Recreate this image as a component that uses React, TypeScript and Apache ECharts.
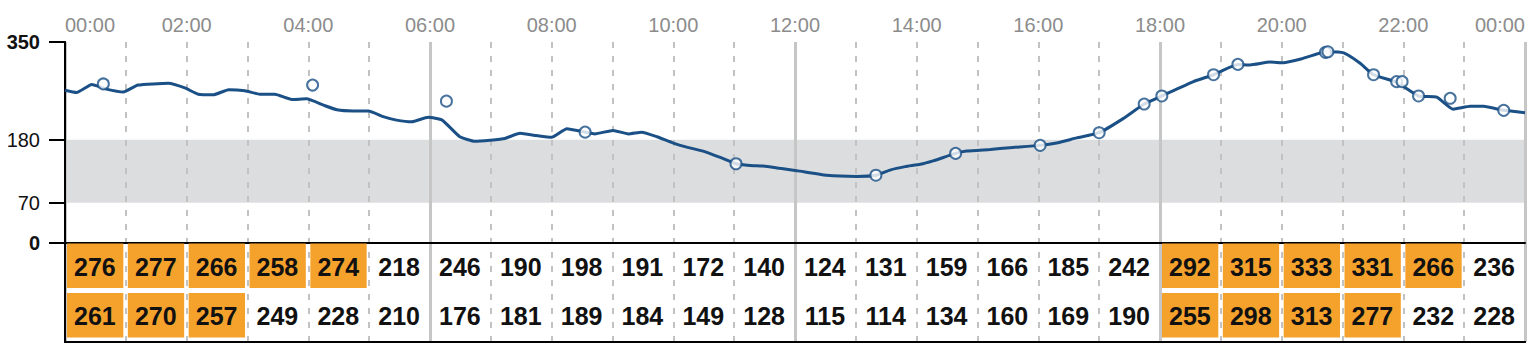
import React, { useEffect, useRef } from 'react';
import * as echarts from 'echarts';

// Continuous glucose trace (hours since midnight, mg/dL)
const cgmTimes = [0, 0.19, 0.44, 0.68, 0.96, 1.2, 1.7, 1.97, 2.19, 2.44, 2.69, 2.96, 3.2, 3.45, 3.73, 3.97, 4.25, 4.47, 4.74, 4.99, 5.23, 5.45, 5.7, 5.97, 6.2, 6.49, 6.74, 6.99, 7.23, 7.48, 7.75, 8.0, 8.25, 8.55, 8.71, 9.01, 9.26, 9.48, 9.73, 10.0, 10.22, 10.49, 10.77, 11.03, 11.26, 11.48, 11.75, 12.03, 12.52, 13.01, 13.33, 13.56, 13.81, 14.06, 14.27, 14.64, 14.82, 15.21, 15.53, 16.03, 16.3, 16.63, 17.0, 17.4, 17.74, 18.03, 18.55, 18.88, 19.28, 19.48, 19.81, 20.03, 20.3, 20.74, 21.02, 21.29, 21.51, 21.89, 22.25, 22.55, 22.82, 23.1, 23.32, 23.65, 24.0];
const cgmValues = [266, 262, 276, 268, 263, 275, 278, 270, 259, 258, 267, 265, 259, 259, 250, 251, 240, 232, 230, 230, 220, 214, 211, 219, 214, 185, 177, 179, 182, 191, 187, 184, 199, 193, 190, 196, 190, 193, 185, 174, 167, 160, 149, 138, 135, 134, 130, 126, 118, 116, 118, 127, 133, 137, 143, 156, 160, 163, 166, 170, 174, 183, 192, 217, 242, 256, 281, 293, 311, 310, 315, 314, 320, 333, 331, 313, 293, 280, 256, 254, 233, 238, 238, 231, 227];

// Meter readings
const meterTimes = [0.63, 4.07, 6.27, 8.55, 11.03, 13.33, 14.64, 16.03, 17.0, 17.74, 18.03, 18.88, 19.28, 20.72, 20.76, 21.51, 21.89, 21.98, 22.25, 22.77, 23.65];
const meterValues = [277, 275, 247, 193, 138, 118, 156, 170, 192, 242, 256, 293, 311, 332, 333, 293, 281, 281, 256, 252, 231];

// Hourly table rows
const hourlyRowA = [276, 277, 266, 258, 274, 218, 246, 190, 198, 191, 172, 140, 124, 131, 159, 166, 185, 242, 292, 315, 333, 331, 266, 236];
const hourlyRowB = [261, 270, 257, 249, 228, 210, 176, 181, 189, 184, 149, 128, 115, 114, 134, 160, 169, 190, 255, 298, 313, 277, 232, 228];

const yTickValues = [0, 70, 180, 350];
const boldYTicks = [0, 350];
const targetRange = [70, 180];
const highThreshold = 250;

const FONT = "'Liberation Sans', Arial, Helvetica, sans-serif";
const BLUE = '#1a5086';
const ORANGE = '#f5a22d';

export default function App() {
  const ref = useRef<HTMLDivElement>(null);

  useEffect(() => {
    const chart = echarts.init(ref.current!, null, { renderer: 'svg' });

    const lineData = cgmTimes.map((t, i) => [t, cgmValues[i]]);
    const meterData = meterTimes.map((t, i) => [t, meterValues[i]]);
    const tableData: number[][] = [];
    hourlyRowA.forEach((v, h) => tableData.push([h, 0, v]));
    hourlyRowB.forEach((v, h) => tableData.push([h, 1, v]));

    const fmtHour = (v: number) =>
      v % 2 === 0 ? String(v % 24).padStart(2, '0') + ':00' : '';

    const option: any = {
      animation: false,
      textStyle: { fontFamily: FONT },
      grid: [
        { left: 65, top: 42, width: 1460, height: 300 },
        { left: 65, top: 42, width: 1460, height: 201 },
        { left: 65, top: 243, width: 1460, height: 99 },
      ],
      xAxis: [
        {
          gridIndex: 0, type: 'value', min: 0, max: 24, interval: 1, position: 'top', z: 3,
          axisLine: { show: true, lineStyle: { color: '#000', width: 2 } },
          axisTick: { show: false },
          axisLabel: {
            formatter: fmtHour, color: '#8c8c8c', fontSize: 20, fontFamily: FONT, margin: 7,
            alignMinLabel: 'left', alignMaxLabel: 'right',
          },
          splitLine: { show: true, lineStyle: { color: '#c2c2c2', width: 2, type: [6, 8] } },
        },
        {
          gridIndex: 0, type: 'value', min: 0, max: 24, interval: 6, position: 'bottom', z: 3,
          axisLine: { show: true, lineStyle: { color: '#000', width: 2 } },
          axisTick: { show: false },
          axisLabel: { show: false },
          splitLine: { show: true, lineStyle: { color: '#c6c6c6', width: 3, type: 'solid' } },
        },
        {
          gridIndex: 1, type: 'value', min: 0, max: 24, position: 'bottom', z: 3,
          axisLine: { show: true, lineStyle: { color: '#000', width: 2 } },
          axisTick: { show: false }, axisLabel: { show: false }, splitLine: { show: false },
        },
        { gridIndex: 2, type: 'value', min: 0, max: 24, show: false },
      ],
      yAxis: [
        {
          gridIndex: 0, type: 'value', min: 0, max: 1, position: 'left', z: 4,
          axisLine: { show: true, lineStyle: { color: '#000', width: 2 } },
          axisTick: { show: false }, axisLabel: { show: false }, splitLine: { show: false },
        },
        {
          gridIndex: 0, type: 'value', min: 0, max: 1, position: 'right', z: 4,
          axisLine: { show: true, lineStyle: { color: '#000', width: 2 } },
          axisTick: { show: false }, axisLabel: { show: false }, splitLine: { show: false },
        },
        {
          gridIndex: 1, type: 'value', min: 0, max: 350, position: 'left', z: 4,
          axisLine: { show: false },
          axisTick: {
            show: true, customValues: yTickValues, length: 16, inside: false,
            lineStyle: { color: '#000', width: 2 },
          },
          axisLabel: {
            customValues: yTickValues, margin: 25, color: '#111', fontSize: 20, fontFamily: FONT,
            formatter: (v: number) => (boldYTicks.includes(v) ? `{b|${v}}` : `${v}`),
            rich: { b: { fontWeight: 'bold', fontSize: 20, color: '#111', fontFamily: FONT } },
          },
          splitLine: { show: false },
        },
        { gridIndex: 2, type: 'value', min: 0, max: 2, inverse: true, show: false },
      ],
      series: [
        {
          type: 'line', xAxisIndex: 2, yAxisIndex: 2, z: 1, silent: true,
          data: [[0, targetRange[0]], [24, targetRange[1]]],
          showSymbol: false, symbol: 'none', lineStyle: { opacity: 0 },
          markArea: {
            silent: true,
            itemStyle: { color: '#dcdddf' },
            data: [[{ yAxis: targetRange[0] }, { yAxis: targetRange[1] }]],
          },
        },
        {
          type: 'line', xAxisIndex: 2, yAxisIndex: 2, z: 5,
          data: lineData, showSymbol: false, symbol: 'none', smooth: 0.15,
          lineStyle: { color: BLUE, width: 3 },
        },
        {
          type: 'scatter', xAxisIndex: 2, yAxisIndex: 2, z: 6,
          data: meterData, symbol: 'circle', symbolSize: 11,
          itemStyle: { color: '#fff', borderColor: BLUE, borderWidth: 2 },
        },
        {
          type: 'custom', xAxisIndex: 3, yAxisIndex: 3, z: 5,
          encode: { x: 0, y: 1 },
          data: tableData,
          renderItem: (params: any, api: any) => {
            const h = api.value(0);
            const r = api.value(1);
            const v = api.value(2);
            const p0 = api.coord([h, r]);
            const p1 = api.coord([h + 1, r + 1]);
            const x0 = p0[0], y0 = p0[1], x1 = p1[0], y1 = p1[1];
            const children: any[] = [];
            if (v > highThreshold) {
              children.push({
                type: 'rect',
                shape: { x: x0 + 2, y: y0 + 0.5, width: x1 - x0 - 4.5, height: y1 - y0 - 5 },
                style: { fill: ORANGE },
              });
            }
            children.push({
              type: 'text',
              x: (x0 + x1) / 2 - 0.5,
              y: (y0 + y1) / 2 - 1,
              style: {
                text: String(v), align: 'center', verticalAlign: 'middle',
                font: `bold 25px ${FONT}`, fill: '#111',
              },
            });
            return { type: 'group', children };
          },
        },
      ],
    };

    chart.setOption(option);
    return () => chart.dispose();
  }, []);

  return (
    <div
      ref={ref}
      style={{ position: 'fixed', left: 0, top: 0, width: 1528, height: 362, background: '#fff' }}
    />
  );
}
